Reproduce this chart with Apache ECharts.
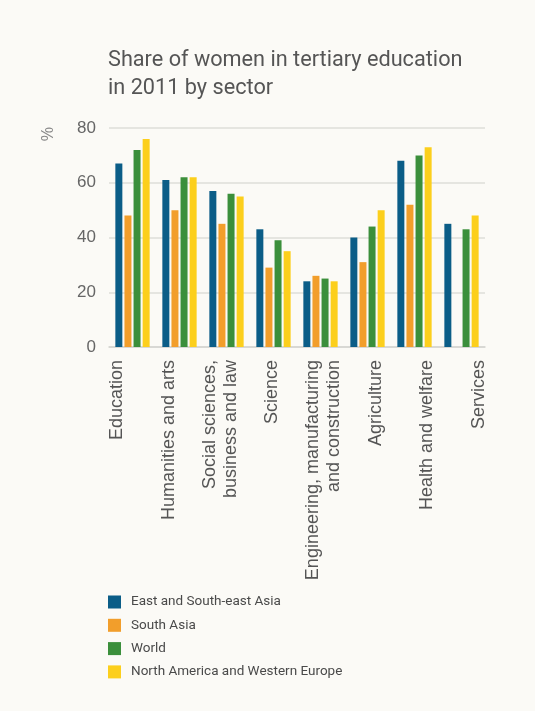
<!DOCTYPE html>
<html>
<head>
<meta charset="utf-8">
<script src="https://cdn.jsdelivr.net/npm/echarts@6/dist/echarts.min.js"></script>
<style>
  html, body { margin: 0; padding: 0; background: #fbfaf6; }
  #chart { width: 535px; height: 711px; }
</style>
</head>
<body>
<div id="chart"></div>
<script>
// sectors (x categories)
const sectors = [
  'Education',
  'Humanities and arts',
  'Social sciences,\nbusiness and law',
  'Science',
  'Engineering, manufacturing\nand construction',
  'Agriculture',
  'Health and welfare',
  'Services'
]

// share of women, %
const eastAsia = [67, 61, 57, 43, 24, 40, 68, 45]
const southAsia = [48, 50, 45, 29, 26, 31, 52, null]
const world = [72, 62, 56, 39, 25, 44, 70, 43]
const naWesternEurope = [76, 62, 55, 35, 24, 50, 73, 48]

const seriesNames = ['East and South-east Asia', 'South Asia', 'World', 'North America and Western Europe']
const yTicks = [0, 20, 40, 60, 80]

const colors = ['#0b5d87', '#f29e2b', '#3b8f3b', '#fccf1c']
const narrowFont = "Roboto, 'Liberation Sans', sans-serif"

const chart = echarts.init(document.getElementById('chart'))

function barSeries(name, data, i) {
  return {
    name: name,
    type: 'bar',
    data: data,
    barWidth: 7,
    barGap: '30%',
    itemStyle: { color: colors[i] },
    xAxisIndex: 0,
    yAxisIndex: 0
  }
}

const option = {
  backgroundColor: '#fbfaf6',
  animation: false,
  color: colors,
  title: {
    text: 'Share of women in tertiary education\nin 2011 by sector',
    left: 108,
    top: 47,
    padding: 0,
    textStyle: {
      fontFamily: narrowFont,
      fontSize: 21.7,
      fontWeight: 'normal',
      color: '#555',
      lineHeight: 28
    }
  },
  legend: {
    orient: 'vertical',
    left: 103,
    top: 590,
    itemWidth: 13,
    itemHeight: 13,
    itemGap: 9.3,
    icon: 'rect',
    data: seriesNames,
    textStyle: {
      fontFamily: narrowFont,
      fontSize: 13.5,
      color: '#4a4a4a',
      padding: [0, 0, 0, 5]
    }
  },
  graphic: [{
    type: 'text',
    left: 37,
    top: 127,
    rotation: -Math.PI / 2,
    style: { text: '%', fontSize: 16, fill: '#888', fontFamily: 'Liberation Sans' }
  }],
  grid: [
    { left: 109, right: 50, top: 128, bottom: 364 },
    { left: 91, right: 30, top: 128, bottom: 364 }
  ],
  xAxis: [
    {
      type: 'category',
      gridIndex: 0,
      data: sectors,
      axisLine: { lineStyle: { color: '#d4d4d0', width: 1.5 } },
      axisTick: { show: false },
      axisLabel: { show: false }
    },
    {
      // label axis, spaced a bit wider than the bars like the original print
      type: 'category',
      gridIndex: 1,
      data: sectors,
      axisLine: { show: false },
      axisTick: { show: false },
      axisLabel: {
        rotate: 90,
        margin: 13,
        interval: 0,
        fontFamily: 'Liberation Sans',
        fontSize: 18,
        lineHeight: 21,
        color: '#555'
      }
    }
  ],
  yAxis: [
    {
      type: 'value',
      gridIndex: 0,
      min: 0,
      max: 80,
      interval: 20,
      axisLine: { show: false },
      axisTick: { show: false },
      axisLabel: {
        margin: 13,
        fontFamily: 'Liberation Sans',
        fontSize: 17,
        color: '#666',
        formatter: v => (yTicks.includes(v) ? String(v) : '')
      },
      splitLine: { lineStyle: { color: '#deded9', width: 1.5 } }
    },
    { type: 'value', gridIndex: 1, show: false }
  ],
  series: [
    barSeries(seriesNames[0], eastAsia, 0),
    barSeries(seriesNames[1], southAsia, 1),
    barSeries(seriesNames[2], world, 2),
    barSeries(seriesNames[3], naWesternEurope, 3)
  ]
}

chart.setOption(option)
</script>
</body>
</html>
